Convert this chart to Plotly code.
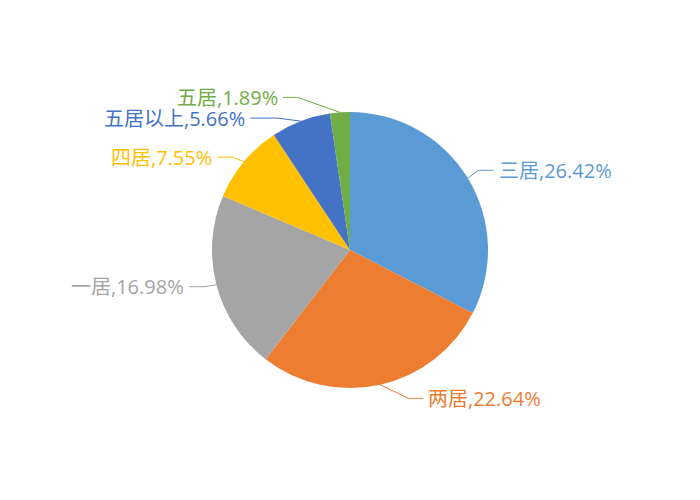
import math
import plotly.graph_objects as go

# room counts (percent labels are shares of the full sample of 53)
labels = ['三居', '两居', '一居', '四居', '五居以上', '五居']
counts = [14, 12, 9, 4, 3, 1]
total_sample = 53
colors = ['#5B9BD5', '#ED7D31', '#A5A5A5', '#FFC000', '#4472C4', '#70AD47']

W, H = 700, 500
page_off = 8  # the page body adds an 8px margin around the figure
cx, cy, r = 350 - page_off, 250 - page_off, 138
len1, len2 = 15, 15
# small label nudges (px): elbow dx, elbow dy, extra horizontal leg
nudge = [(-2, 0, 0), (25, -1, 0), (2, -2, 0), (0, 5, 0), (-18, 11, 12), (-41, 0, 0)]

fig = go.Figure()
fig.add_trace(go.Pie(
    labels=labels, values=counts, sort=False, direction='clockwise', rotation=0,
    marker=dict(colors=colors, line=dict(width=0)),
    textinfo='none', hoverinfo='label+value', showlegend=False,
    domain=dict(x=[(cx - r) / W, (cx + r) / W], y=[1 - (cy + r) / H, 1 - (cy - r) / H]),
))

def px(x, y):
    return x / W, 1 - y / H

shapes, annotations = [], []
tot = sum(counts)
start = 0.0
for lab, val, col, (nx, ny, nl) in zip(labels, counts, colors, nudge):
    ang = math.radians((start + val / 2) / tot * 360)
    start += val
    sx, sy = math.sin(ang), -math.cos(ang)
    ex, ey = cx + r * sx, cy + r * sy
    bx, by = cx + (r + len1) * sx + nx, cy + (r + len1) * sy + ny
    d = 1 if sx >= 0 else -1
    tx = bx + d * (len2 + nl)
    p0, p1, p2 = px(ex, ey), px(bx, by), px(tx, by)
    shapes.append(dict(type='path', xref='paper', yref='paper',
                       path=f'M {p0[0]} {p0[1]} L {p1[0]} {p1[1]} L {p2[0]} {p2[1]}',
                       line=dict(color=col, width=1)))
    pct = val / total_sample * 100
    ax, ay = px(tx + d * 3, by)
    annotations.append(dict(x=ax, y=ay, xref='paper', yref='paper', showarrow=False,
                            text=f'{lab},{pct:.2f}%', xanchor='left' if d > 0 else 'right',
                            yanchor='middle', font=dict(color=col, size=20)))

fig.update_layout(
    width=W, height=H, margin=dict(l=0, r=0, t=0, b=0),
    paper_bgcolor='white', plot_bgcolor='white',
    font=dict(family='Open Sans, Noto Sans CJK SC, sans-serif'),
    shapes=shapes, annotations=annotations,
)

fig.write_html('out.html')
